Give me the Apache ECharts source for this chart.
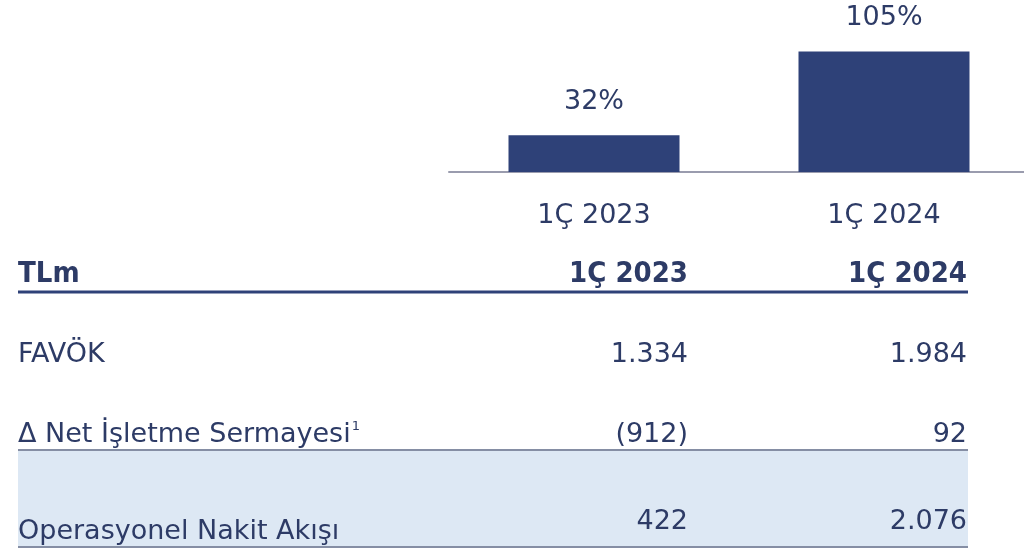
<!DOCTYPE html>
<html>
<head>
<meta charset="utf-8">
<script src="https://cdn.jsdelivr.net/npm/echarts@6/dist/echarts.min.js"></script>
<style>
  html, body { margin: 0; padding: 0; background: #fff; }
  #chart { width: 1024px; height: 550px; }
</style>
</head>
<body>
<div id="chart"></div>
<script>
// bar chart data
const categories = ["1Ç 2023", "1Ç 2024"];
const conversion = [32, 105];

// table data
const tableHeader = ["TLm", "1Ç 2023", "1Ç 2024"];
const rowLabels = ["FAVÖK", "Δ Net İşletme Sermayesi", "Operasyonel Nakit Akışı"];
const rowNotes = ["", "1", ""];
const values2023 = ["1.334", "(912)", "422"];
const values2024 = ["1.984", "92", "2.076"];

const navy = "#2e4178";
const textColor = "#2d3b66";
const regularFont = "'DejaVu Sans', sans-serif";
const regularWeight = "normal";
const boldFont = "'DejaVu Sans Condensed', 'DejaVu Sans', sans-serif";
const rowFont = regularWeight + " 27px " + regularFont;

const chart = echarts.init(document.getElementById("chart"), null, { renderer: "canvas" });

// table layout
const tableLeft = 18;
const tableRight = 968;
const col1Right = 688;
const col2Right = 967;
const rowBaselines = [363, 443, 540];
const valueBaselines = [363, 443, 530];

const measureCtx = document.createElement("canvas").getContext("2d");
function textWidth(text, font) {
  measureCtx.font = font;
  return measureCtx.measureText(text).width;
}

// y is the text baseline; middle of the em box sits ~0.3em above it
function txt(x, y, text, align, extra, size) {
  const fs = size || 27;
  return {
    type: "text",
    x: x,
    y: y - Math.round(fs * 0.3),
    silent: true,
    style: Object.assign({
      text: text,
      fill: textColor,
      font: rowFont,
      align: align,
      verticalAlign: "middle",
    }, extra || {}),
  };
}

const graphics = [];

// shaded total row
graphics.push({
  type: "rect",
  shape: { x: tableLeft, y: 451, width: tableRight - tableLeft, height: 95 },
  style: { fill: "#dde8f4" },
  silent: true,
  z: 0,
});

// header
const headerFont = "bold 29px " + boldFont;
graphics.push(txt(tableLeft, 283, tableHeader[0], "left", { font: headerFont }, 29));
graphics.push(txt(col1Right, 283, tableHeader[1], "right", { font: headerFont }, 29));
graphics.push(txt(col2Right, 283, tableHeader[2], "right", { font: headerFont }, 29));

// lines
graphics.push({
  type: "line",
  shape: { x1: tableLeft, y1: 292, x2: tableRight, y2: 292 },
  style: { stroke: navy, lineWidth: 3 },
  silent: true,
});
graphics.push({
  type: "line",
  shape: { x1: tableLeft, y1: 450, x2: tableRight, y2: 450 },
  style: { stroke: "#5d6886", lineWidth: 1.5 },
  silent: true,
});
graphics.push({
  type: "line",
  shape: { x1: tableLeft, y1: 547, x2: tableRight, y2: 547 },
  style: { stroke: "#5d6886", lineWidth: 1.5 },
  silent: true,
});

// rows
rowLabels.forEach((label, i) => {
  graphics.push(txt(tableLeft, rowBaselines[i], label, "left"));
  if (rowNotes[i]) {
    const noteX = tableLeft + textWidth(label, rowFont) + 1;
    graphics.push(txt(noteX, rowBaselines[i] - 12, rowNotes[i], "left", {
      font: regularWeight + " 13px " + regularFont,
    }, 13));
  }
  graphics.push(txt(col1Right, valueBaselines[i], values2023[i], "right"));
  graphics.push(txt(col2Right, valueBaselines[i], values2024[i], "right"));
});

const option = {
  animation: false,
  backgroundColor: "#ffffff",
  grid: {
    left: 449,
    top: 0,
    width: 580,
    height: 172,
    outerBoundsMode: "none",
    containLabel: false,
  },
  xAxis: {
    type: "category",
    data: categories,
    axisLine: { lineStyle: { color: "#9a9cae", width: 2 } },
    axisTick: { show: false },
    axisLabel: {
      color: textColor,
      fontFamily: regularFont,
      fontWeight: regularWeight,
      fontSize: 27,
      margin: 30,
    },
  },
  yAxis: {
    type: "value",
    min: 0,
    max: 150,
    show: false,
    splitLine: { show: false },
  },
  series: [
    {
      type: "bar",
      data: conversion,
      barWidth: 171,
      itemStyle: { color: navy },
      label: {
        show: true,
        position: "top",
        distance: 20,
        formatter: "{c}%",
        color: textColor,
        fontFamily: regularFont,
        fontWeight: regularWeight,
        fontSize: 27,
      },
    },
  ],
  graphic: graphics,
};

chart.setOption(option);
</script>
</body>
</html>
